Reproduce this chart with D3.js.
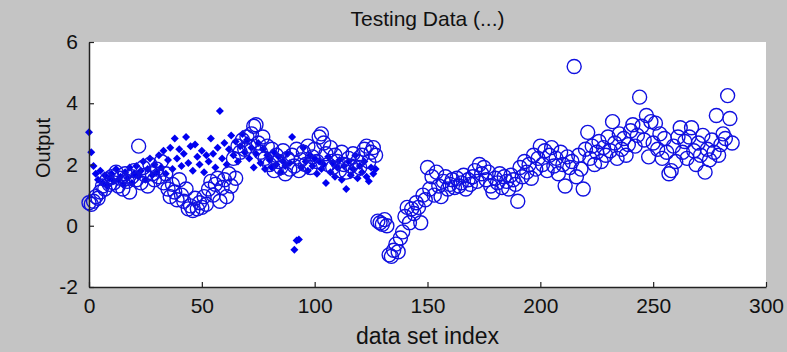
<!DOCTYPE html>
<html lang="en">
<head>
<meta charset="UTF-8">
<title>Testing Data</title>
<script src="https://cdn.jsdelivr.net/npm/d3@7"></script>
<style>
body { margin: 0; background: #c4c4c4; }
svg { display: block; }
text { font-family: 'Liberation Sans', Arial, sans-serif; fill: #111; }
</style>
</head>
<body>
<svg width="787" height="352"></svg>
<script>
// testing data: actual output (filled dots) for first part, FIS output (circles) for all
const dotValues = [
  3.05, 2.4, 1.95, 1.7, 1.5, 1.8, 1.4, 1.65, 1.3, 1.55,
  1.7, 1.45, 1.85, 1.5, 1.6, 1.35, 1.75, 1.55, 1.9, 1.4,
  1.7, 1.95, 1.6, 1.8, 2.1, 1.5, 1.85, 2.2, 1.65, 2.0,
  1.75, 2.3, 1.9, 2.45, 1.7, 2.15, 2.55, 1.85, 2.85, 2.2,
  2.5, 1.95, 2.35, 2.9, 2.05, 2.6, 1.8, 2.65, 2.25, 2.0,
  2.45, 1.75, 2.3, 2.1, 2.85, 2.35, 1.9, 2.55, 3.75, 2.2,
  2.7, 2.0, 2.5, 2.95, 2.3, 2.75, 2.1, 2.6, 3.0, 2.4,
  2.8, 2.2, 2.55, 1.9, 2.35, 2.7, 2.05, 2.5, 1.85, 2.3,
  2.15, 1.9, 2.4, 2.0, 2.25, 1.75, 2.1, 1.95, 2.35, 2.05,
  2.9, -0.78, -0.48, -0.45, 1.9, 2.55, 2.1, 1.8, 2.3, 1.95,
  2.2, 1.7, 2.1, 1.85, 2.0, 1.4, 2.25, 1.75, 2.05, 1.6,
  1.9, 2.15, 1.5, 1.95, 1.2, 2.1, 1.65, 1.85, 2.3, 1.55,
  1.95, 1.75, 2.1, 1.6, 1.45, 1.9, 1.7, 1.85
];

const circleValues = [
  0.75, 0.7, 0.8, 0.95, 0.9, 1.1, 1.3, 1.2, 1.5, 1.35,
  1.6, 1.4, 1.75, 1.3, 1.55, 1.2, 1.7, 1.45, 1.1, 1.6,
  1.8, 1.5, 2.6, 1.4, 1.9, 1.65, 1.3, 2.0, 1.7, 1.5,
  1.85, 1.6, 2.1, 1.4, 1.7, 1.2, 0.95, 1.35, 1.1, 0.85,
  1.5, 1.0, 0.8, 1.2, 0.55, 0.65, 0.5, 0.9, 0.55, 0.75,
  0.6, 0.95, 0.7, 1.2, 1.45, 1.0, 1.35, 1.55, 0.8, 1.25,
  1.5, 0.95, 1.7, 1.3, 2.2, 1.55, 2.6, 2.4, 2.8, 2.5,
  2.9, 2.6, 3.0, 3.25, 3.3, 2.7, 2.4, 2.9, 2.2, 2.6,
  2.0, 2.5, 1.8, 2.3, 2.1, 1.9, 2.45, 1.7, 2.2, 1.85,
  2.3, 1.95, 2.5, 1.8, 2.15, 2.4, 2.0, 2.6, 1.9, 2.25,
  2.5, 2.1, 2.9, 3.0, 2.7, 2.35, 2.0, 2.55, 1.9, 2.3,
  2.1, 1.8, 2.4, 2.0, 1.75, 2.2, 1.95, 2.35, 1.8, 2.1,
  1.9, 2.3, 2.5, 2.6, 2.1, 2.4, 2.55, 2.3, 0.15, 0.1,
  0.05, 0.2, 0.0, -0.95, -1.0, -0.8, -0.6, -0.85, -0.4, -0.2,
  0.3, 0.6, 0.1, 0.55, 0.4, 0.75, 0.6, 0.1, 1.0, 0.85,
  1.9, 1.2, 1.6, 1.0, 1.75, 1.3, 0.95, 1.45, 1.6, 1.2,
  1.35, 1.5, 1.25, 1.55, 1.3, 1.4, 1.65, 1.2, 1.5, 1.35,
  1.6, 1.8, 1.45, 2.0, 1.7, 1.9, 1.5, 1.75, 1.3, 1.1,
  1.55, 1.4, 1.7, 1.25, 1.6, 1.45, 1.2, 1.65, 1.5, 1.35,
  0.8, 1.9, 1.6, 2.1, 1.75, 2.0, 1.55, 2.3, 1.85, 2.2,
  2.6, 2.0, 2.45, 1.8, 2.3, 2.55, 1.95, 2.2, 1.7, 2.4,
  2.0, 1.3, 2.25, 1.9, 2.1, 5.2, 1.6, 2.3, 1.85, 1.2,
  2.5, 3.05, 2.2, 2.6, 2.0, 2.4, 2.75, 2.1, 2.55, 2.3,
  2.9, 2.45, 3.4, 2.7, 2.2, 3.0, 2.5, 2.85, 2.3, 2.65,
  3.1, 3.3, 2.6, 2.95, 4.2, 3.25, 2.8, 3.6, 2.25, 3.4,
  2.7, 3.35, 2.5, 3.0, 2.2, 2.85, 2.4, 1.7, 1.8, 2.6,
  2.1, 2.9, 3.2, 2.4, 2.75, 2.2, 2.9, 3.2, 2.45, 2.0,
  2.7, 2.3, 2.95, 1.75, 2.5, 2.15, 2.8, 2.4, 3.6, 2.3,
  2.65, 3.0, 2.85, 4.25, 3.5, 2.7
];

const xTicks = [0, 50, 100, 150, 200, 250, 300];
const yTicks = [-2, 0, 2, 4, 6];

const svg = d3.select("svg");
const plotLeft = 89, plotRight = 766, plotTop = 42, plotBottom = 287;

const x = d3.scaleLinear().domain([0, 300]).range([plotLeft, plotRight]);
const y = d3.scaleLinear().domain([-2, 6]).range([plotBottom, plotTop]);

// white axes box
svg.append("rect")
    .attr("x", plotLeft).attr("y", plotTop)
    .attr("width", plotRight - plotLeft).attr("height", plotBottom - plotTop)
    .attr("fill", "#fff");

const plot = svg.append("g");

// filled dots (small square turned 45deg)
plot.selectAll("path.dot")
    .data(dotValues)
    .join("path")
    .attr("class", "dot")
    .attr("transform", (d, i) => `translate(${x(i)},${y(d)}) rotate(45)`)
    .attr("d", d3.symbol(d3.symbolSquare, 32))
    .attr("fill", "#0000f0");

// open circles
plot.selectAll("circle")
    .data(circleValues)
    .join("circle")
    .attr("cx", (d, i) => x(i))
    .attr("cy", d => y(d))
    .attr("r", 7)
    .attr("fill", "none")
    .attr("stroke", "#1010e0")
    .attr("stroke-width", 1.4);

// axes, ticks pointing inwards like matlab
const xAxis = svg.append("g")
    .attr("transform", `translate(0,${plotBottom})`)
    .call(d3.axisBottom(x).tickValues(xTicks).tickFormat(d => String(d))
      .tickSizeInner(-5).tickSizeOuter(0).tickPadding(10));
const yAxis = svg.append("g")
    .attr("transform", `translate(${plotLeft},0)`)
    .call(d3.axisLeft(y).tickValues(yTicks).tickFormat(d => String(d))
      .tickSizeInner(-5).tickSizeOuter(0).tickPadding(11));

[xAxis, yAxis].forEach(g => {
  g.select(".domain").attr("stroke", "#222").attr("stroke-width", 1.5);
  g.selectAll(".tick line").attr("stroke", "#222").attr("stroke-width", 1.2);
  g.selectAll(".tick text")
      .style("font-family", "'Liberation Sans', Arial, sans-serif")
      .style("font-size", "21px")
      .attr("fill", "#111");
});
xAxis.selectAll(".tick text").attr("dy", "0.75em");

// labels
svg.append("text")
    .attr("x", (plotLeft + plotRight) / 2).attr("y", 26)
    .attr("text-anchor", "middle")
    .style("font-size", "21px")
    .text("Testing Data (...)");

svg.append("text")
    .attr("x", (plotLeft + plotRight) / 2).attr("y", 344)
    .attr("text-anchor", "middle")
    .style("font-size", "23px")
    .text("data set index");

svg.append("text")
    .attr("transform", "translate(50,148) rotate(-90)")
    .attr("text-anchor", "middle")
    .style("font-size", "20px")
    .text("Output");
</script>
</body>
</html>
